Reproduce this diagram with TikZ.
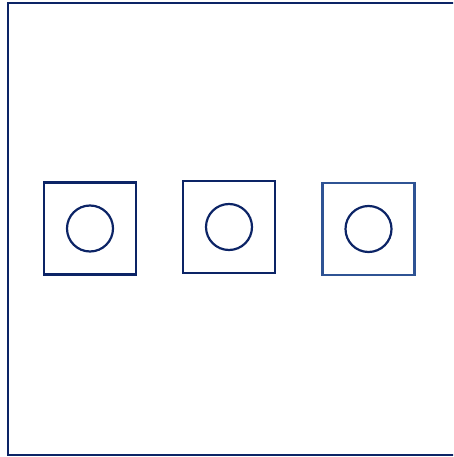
\documentclass[tikz,border=0pt]{standalone}
\usepackage{tikz}
\definecolor{navy}{HTML}{0C2466}
\definecolor{steel}{HTML}{2F5394}
\tikzset{
  % outer panel, the square boxes and the round holes in them
  panel/.style={draw=navy,line width=2.4pt},
  box node/.style={rectangle,draw=navy,line width=2.2pt,minimum size=92pt,inner sep=0},
  hole node/.style={circle,draw=navy,line width=2.2pt,minimum size=46pt,inner sep=0}
}
\begin{document}
\begin{tikzpicture}[x=1pt,y=-1pt]
  \useasboundingbox (0,0) rectangle (453,457);
  \clip (0,0) rectangle (453,457);
  % the panel, running off the right edge
  \draw[panel] (8,3) rectangle (470,455);
  % the three boxes
  \node(box1)[box node] at (90,228.5) {};
  \node(box2)[box node] at (229,227) {};
  \node(box3)[box node,draw=steel] at (368.5,229) {};
  % holes
  \node(hole1)[hole node] at (box1.center) {};
  \node(hole2)[hole node] at (box2.center) {};
  \node(hole3)[hole node] at (box3.center) {};
\end{tikzpicture}
\end{document}
